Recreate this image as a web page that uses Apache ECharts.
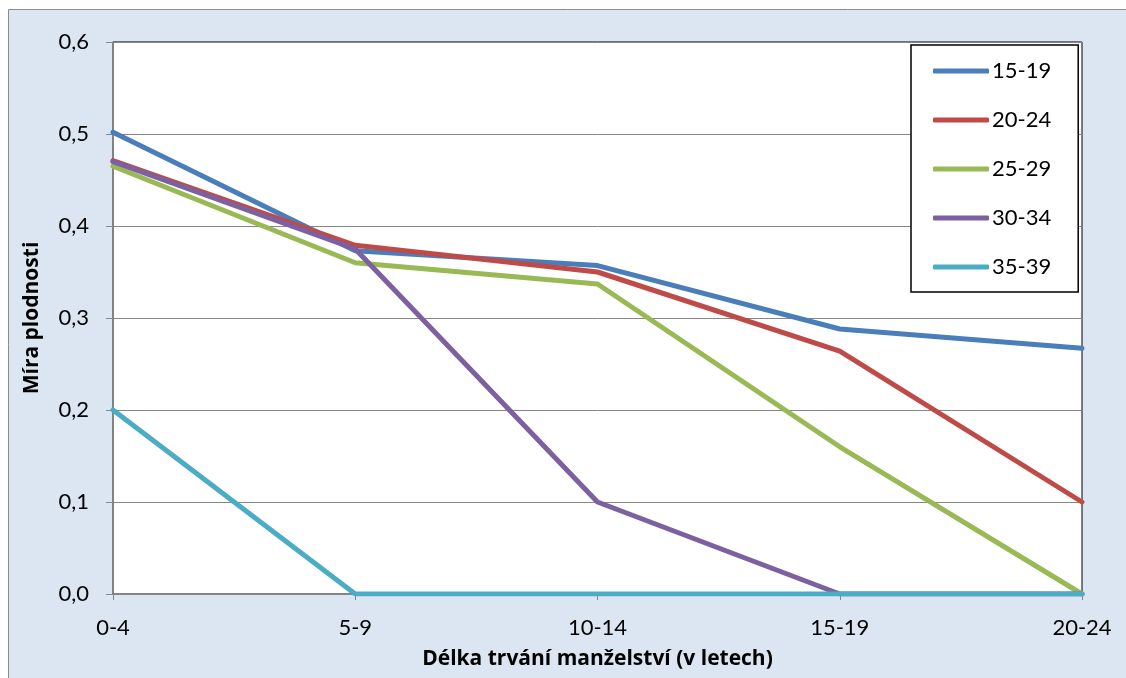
<!DOCTYPE html>
<html>
<head>
<meta charset="utf-8">
<script src="https://cdn.jsdelivr.net/npm/echarts@6/dist/echarts.min.js"></script>
<style>
html,body{margin:0;padding:0;background:#fff;}
#chart{width:1126px;height:678px;}
</style>
</head>
<body>
<div id="chart"></div>
<script>
const categories = ['0-4', '5-9', '10-14', '15-19', '20-24'];
const seriesNames = ['15-19', '20-24', '25-29', '30-34', '35-39'];
const s1519 = [0.502, 0.373, 0.357, 0.288, 0.267];
const s2024 = [0.471, 0.379, 0.350, 0.264, 0.100];
const s2529 = [0.465, 0.360, 0.337, 0.160, 0.000];
const s3034 = [0.470, 0.375, 0.100, 0.000, 0.000];
const s3539 = [0.200, 0.000, 0.000, 0.000, 0.000];
const colors = ['#4a7ebb', '#be4b48', '#98b954', '#7d60a0', '#4bacc6'];
const allData = [s1519, s2024, s2529, s3034, s3539];

const FONT = 'Lato, "Open Sans", sans-serif';
const TITLE_FONT = '"Open Sans", Lato, sans-serif';
const chart = echarts.init(document.getElementById('chart'), null, {renderer: 'canvas'});
chart.setOption({
  animation: false,
  backgroundColor: '#fff',
  textStyle: {fontFamily: FONT},
  graphic: [{
    type: 'rect', z: -10, silent: true,
    shape: {x: 8.5, y: 9.5, width: 1130, height: 680},
    style: {fill: '#dce6f2', stroke: '#8c8c8c', lineWidth: 1}
  }],
  grid: {
    left: 113, top: 42, right: 1126 - 1082, bottom: 678 - 594,
    show: true, backgroundColor: '#fff', borderColor: '#000', borderWidth: 1
  },
  legend: {
    orient: 'vertical', left: 911, top: 45,
    padding: [15, 27, 14, 22],
    backgroundColor: '#fff', borderColor: '#000', borderWidth: 1.5,
    itemWidth: 56, itemHeight: 5, itemGap: 27,
    icon: 'roundRect',
    textStyle: {fontSize: 22, color: '#000', fontFamily: FONT, lineHeight: 22, padding: [0, 0, 0, -2]},
    data: seriesNames
  },
  xAxis: {
    type: 'category', data: categories, boundaryGap: false,
    name: 'Délka trvání manželství (v letech)', nameLocation: 'middle', nameGap: 55,
    nameTextStyle: {fontSize: 21, fontWeight: 'bold', color: '#000', fontFamily: TITLE_FONT},
    axisLine: {lineStyle: {color: '#868686', width: 1.5}},
    axisTick: {show: true, alignWithLabel: true, length: 6, lineStyle: {color: '#868686'}},
    axisLabel: {fontSize: 22, color: '#000', margin: 23, fontFamily: FONT},
    splitLine: {show: false}
  },
  yAxis: {
    type: 'value', min: 0, max: 0.6, interval: 0.1,
    name: 'Míra plodnosti', nameLocation: 'middle', nameGap: 70,
    nameTextStyle: {fontSize: 21, fontWeight: 'bold', color: '#000', fontFamily: TITLE_FONT},
    axisLine: {show: true, lineStyle: {color: '#868686', width: 1.5}},
    axisTick: {show: true, length: 7, lineStyle: {color: '#868686'}},
    axisLabel: {fontSize: 22, color: '#000', margin: 24, fontFamily: FONT,
      formatter: v => v.toFixed(1).replace('.', ',')},
    splitLine: {lineStyle: {color: '#868686', width: 1}}
  },
  series: seriesNames.map((n, i) => ({
    name: n, type: 'line', data: allData[i],
    symbol: 'none', color: colors[i],
    lineStyle: {width: 5, color: colors[i], cap: 'round', join: 'round'},
    z: 2 + i
  }))
});
</script>
</body>
</html>
